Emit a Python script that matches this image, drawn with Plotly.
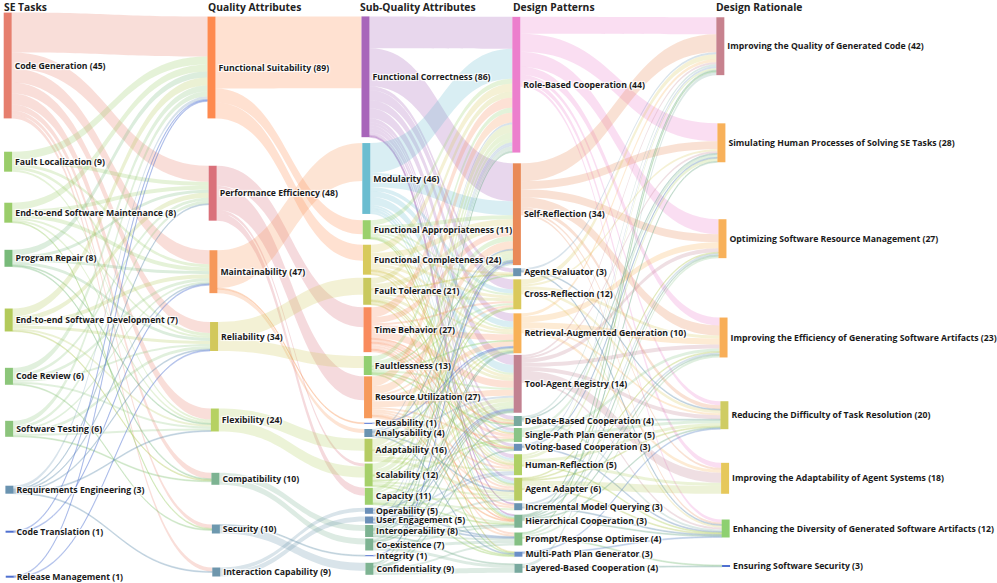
import plotly.graph_objects as go

# ---------------- data ----------------
se_tasks = ["Code Generation", "Fault Localization", "End-to-end Software Maintenance", "Program Repair",
            "End-to-end Software Development", "Code Review", "Software Testing",
            "Requirements Engineering", "Code Translation", "Release Management"]
se_counts = [45, 9, 8, 8, 7, 6, 6, 3, 1, 1]

quality_attrs = ["Functional Suitability", "Performance Efficiency", "Maintainability", "Reliability",
                 "Flexibility", "Compatibility", "Security", "Interaction Capability"]
qa_counts = [89, 48, 47, 34, 24, 10, 10, 9]

sub_quality = ["Functional Correctness", "Modularity", "Functional Appropriateness", "Functional Completeness",
               "Fault Tolerance", "Time Behavior", "Faultlessness", "Resource Utilization", "Reusability",
               "Analysability", "Adaptability", "Scalability", "Capacity", "Operability", "User Engagement",
               "Interoperability", "Co-existence", "Integrity", "Confidentiality"]
sq_counts = [86, 46, 11, 24, 21, 27, 13, 27, 1, 4, 16, 12, 11, 5, 5, 8, 7, 1, 9]

design_patterns = ["Role-Based Cooperation", "Self-Reflection", "Agent Evaluator", "Cross-Reflection",
                   "Retrieval-Augmented Generation", "Tool-Agent Registry", "Debate-Based Cooperation",
                   "Single-Path Plan Generator", "Voting-based Cooperation", "Human-Reflection", "Agent Adapter",
                   "Incremental Model Querying", "Hierarchical Cooperation", "Prompt/Response Optimiser",
                   "Multi-Path Plan Generator", "Layered-Based Cooperation"]
dp_counts = [44, 34, 3, 12, 10, 14, 4, 5, 3, 5, 6, 3, 3, 4, 3, 4]

design_rationale = ["Improving the Quality of Generated Code", "Simulating Human Processes of Solving SE Tasks",
                    "Optimizing Software Resource Management",
                    "Improving the Efficiency of Generating Software Artifacts",
                    "Reducing the Difficulty of Task Resolution", "Improving the Adaptability of Agent Systems",
                    "Enhancing the Diversity of Generated Software Artifacts", "Ensuring Software Security"]
dr_counts = [42, 28, 27, 23, 20, 18, 12, 3]

column_titles = ["SE Tasks", "Quality Attributes", "Sub-Quality Attributes", "Design Patterns", "Design Rationale"]

# flow weights (rows = source node, columns = target node), estimated from band widths
flow_se_qa = [
    [40, 16, 14, 11, 11, 6, 4, 4],
    [8, 4, 3, 3, 2, 0, 0, 0],
    [7, 4, 4, 2, 2, 0, 1, 0],
    [6, 3, 3, 3, 1, 1, 0, 0],
    [8, 5, 4, 3, 2, 1, 0, 0],
    [6, 3, 3, 2, 2, 0, 1, 0],
    [5, 3, 2, 3, 2, 1, 0, 0],
    [3, 1, 1, 1, 1, 0, 0, 1],
    [1, 0, 1, 0, 0, 0, 0, 0],
    [1, 0, 0, 1, 0, 0, 0, 0],
]
flow_qa_sq = [
    [72, 0, 14, 16, 0, 0, 0, 0, 0, 0, 0, 0, 0, 0, 0, 0, 0, 0, 0],
    [0, 0, 0, 0, 0, 20, 0, 24, 0, 0, 0, 3, 8, 0, 0, 0, 0, 0, 0],
    [0, 38, 0, 0, 0, 0, 0, 0, 1, 4, 0, 0, 0, 0, 0, 0, 0, 0, 0],
    [0, 0, 0, 0, 17, 0, 12, 0, 0, 0, 0, 0, 0, 0, 0, 0, 0, 0, 0],
    [0, 0, 0, 0, 0, 0, 0, 0, 0, 0, 12, 11, 0, 0, 0, 0, 0, 0, 0],
    [0, 0, 0, 0, 0, 0, 0, 0, 0, 0, 0, 0, 0, 0, 0, 6, 6, 0, 0],
    [0, 0, 0, 0, 0, 0, 0, 0, 0, 0, 0, 0, 0, 0, 0, 0, 0, 1, 8],
    [0, 0, 0, 0, 0, 0, 0, 0, 0, 0, 0, 0, 0, 4, 5, 0, 0, 0, 0],
]
flow_sq_dp = [
    [32, 38, 4, 10, 8, 10, 4, 3, 3, 4, 3, 1, 1, 0, 0, 0],
    [30, 14, 0, 4, 6, 8, 0, 2, 0, 2, 3, 0, 2, 0, 0, 0],
    [5, 4, 0, 2, 2, 2, 0, 0, 0, 2, 1, 0, 1, 0, 0, 0],
    [8, 6, 2, 3, 3, 3, 1, 1, 0, 2, 0, 0, 1, 0, 0, 0],
    [6, 5, 1, 3, 2, 3, 2, 0, 1, 1, 2, 0, 0, 0, 1, 0],
    [10, 6, 0, 2, 6, 7, 1, 3, 1, 2, 2, 2, 1, 2, 0, 0],
    [5, 5, 1, 2, 1, 2, 1, 0, 1, 0, 0, 0, 0, 0, 1, 0],
    [10, 8, 0, 2, 5, 6, 0, 2, 0, 2, 2, 2, 1, 2, 0, 0],
    [0, 0, 0, 0, 1, 0, 0, 0, 0, 0, 0, 0, 0, 0, 0, 0],
    [2, 1, 0, 0, 1, 2, 0, 0, 0, 0, 1, 0, 0, 0, 1, 0],
    [8, 3, 0, 1, 2, 4, 0, 0, 0, 2, 3, 0, 0, 0, 0, 0],
    [6, 5, 0, 1, 1, 4, 0, 1, 0, 0, 2, 0, 2, 0, 1, 0],
    [4, 2, 0, 0, 0, 3, 0, 2, 0, 0, 2, 2, 1, 0, 1, 0],
    [2, 0, 0, 0, 0, 1, 0, 0, 0, 2, 0, 0, 0, 1, 0, 0],
    [2, 1, 0, 0, 0, 1, 0, 0, 0, 2, 0, 0, 0, 1, 0, 0],
    [3, 1, 0, 0, 1, 1, 0, 0, 0, 0, 2, 0, 1, 2, 0, 1],
    [2, 0, 0, 0, 1, 1, 0, 0, 0, 0, 0, 0, 2, 3, 0, 3],
    [0, 1, 0, 0, 0, 0, 0, 0, 0, 0, 0, 0, 0, 0, 0, 0],
    [1, 2, 0, 0, 0, 0, 1, 0, 1, 0, 0, 0, 0, 2, 0, 5],
]
flow_dp_dr = [
    [17, 18, 15, 8, 4, 5, 3, 0],
    [18, 8, 8, 10, 4, 2, 2, 0],
    [2, 0, 0, 0, 1, 0, 1, 0],
    [5, 2, 0, 3, 3, 0, 2, 0],
    [3, 0, 6, 6, 2, 3, 0, 0],
    [2, 2, 4, 4, 4, 10, 2, 0],
    [2, 1, 0, 0, 1, 0, 2, 0],
    [0, 3, 0, 3, 3, 0, 0, 0],
    [2, 1, 0, 0, 0, 0, 1, 0],
    [2, 3, 0, 0, 3, 3, 1, 0],
    [0, 0, 1, 1, 1, 8, 1, 0],
    [0, 0, 2, 2, 0, 0, 1, 0],
    [1, 1, 1, 1, 1, 0, 1, 0],
    [1, 0, 2, 2, 0, 0, 0, 1],
    [0, 0, 0, 0, 1, 0, 1, 0],
    [3, 0, 0, 0, 0, 0, 0, 1],
]

# ---------------- styles ----------------
se_colors = ["#E67F6E", "#9ACD6A", "#9ACD6A", "#78BA7A", "#B3CA5A", "#8CC67A", "#8CC47C",
             "#6A93B0", "#4F70D0", "#4F70D0"]
qa_colors = ["#FE8A4F", "#DA707A", "#F6985A", "#D2C85B", "#B6D163", "#7DB392", "#6D98AE", "#6E96AC"]
sq_colors = ["#A865BA", "#6BBDD0", "#9BD06C", "#D8CA5C", "#C9C95E", "#F98B5D", "#92CF70", "#F69A5B",
             "#4F70D0", "#6A93B0", "#B5CC63", "#A6D06A", "#9ED06C", "#6A8FB8", "#6A8FB8", "#7DB392",
             "#7DB392", "#4F70D0", "#7DB392"]
dp_colors = ["#EC7FCD", "#E98A58", "#6A93B0", "#DAC95C", "#F8B157", "#C28291", "#78A99E", "#88C486",
             "#6A8FB8", "#B0D064", "#B8CC63", "#6A93B0", "#7DB392", "#84C084", "#6A8FC8", "#78A99E"]
dr_colors = ["#C7828E", "#F8B15A", "#F8B15A", "#F8AE58", "#CFCC63", "#E6C85B", "#8ED071", "#4F70D0"]

# layout positions (pixels in the 997x583 page)
FIG_W, FIG_H = 997, 583
M_T, M_B = 11, 5
PLOT_H = FIG_H - M_T - M_B
col_x_px = [7.5, 211, 365, 516, 720]
col_drift = [0.004, 0.0095, 0.008, 0.0045, 0.011]   # slight rightward drift of lower nodes
title_x_px = [3, 207, 359, 512, 715]
se_y_px = [65.5, 161.7, 212.7, 258.3, 320, 376.3, 428.8, 489.7, 531.7, 576.7]
qa_y_px = [67.5, 193.2, 271.7, 336.5, 420, 478.8, 529, 572]
sq_y_px = [76.8, 178.5, 229.7, 259.7, 291.3, 329.7, 365.5, 397.3, 423.3, 433, 450.2, 475, 496.3,
           510.8, 520, 531, 544.5, 555.7, 568.8]
dp_y_px = [84.7, 214.2, 272.2, 294.3, 333.3, 383.8, 421, 435, 447.3, 464.7, 489.2, 506.7, 521.2,
           539, 554.2, 568.3]
dr_y_px = [46.2, 142.8, 238.7, 337.5, 415.2, 478.3, 528.5, 566]

columns = [se_tasks, quality_attrs, sub_quality, design_patterns, design_rationale]
counts = [se_counts, qa_counts, sq_counts, dp_counts, dr_counts]
colors = [se_colors, qa_colors, sq_colors, dp_colors, dr_colors]
ypos = [se_y_px, qa_y_px, sq_y_px, dp_y_px, dr_y_px]
flows = [flow_se_qa, flow_qa_sq, flow_sq_dp, flow_dp_dr]


def rgba(hex_color, a):
    h = hex_color.lstrip("#")
    r, g, b = int(h[0:2], 16), int(h[2:4], 16), int(h[4:6], 16)
    return f"rgba({r},{g},{b},{a})"


labels, node_colors, node_x, node_y, offsets = [], [], [], [], []
off = 0
for c, names in enumerate(columns):
    offsets.append(off)
    for i, name in enumerate(names):
        labels.append(f"{name} ({counts[c][i]})")
        node_colors.append(colors[c][i])
        yp = ypos[c][i]
        node_x.append((col_x_px[c] + col_drift[c] * (yp - 16)) / FIG_W)
        node_y.append((yp - M_T) / PLOT_H)
    off += len(names)

src, tgt, val, link_colors = [], [], [], []
for s, mat in enumerate(flows):
    for i, row in enumerate(mat):
        for j, v in enumerate(row):
            if v > 0:
                src.append(offsets[s] + i)
                tgt.append(offsets[s + 1] + j)
                val.append(v)
                link_colors.append(rgba(colors[s][i], 0.26))

# invisible helper column on the far right, so the last real column keeps its labels on the right
helper = len(labels)
labels.append("")
node_colors.append("rgba(0,0,0,0)")
node_x.append(0.999)
node_y.append(0.5)
for j in range(len(design_rationale)):
    src.append(offsets[4] + j)
    tgt.append(helper)
    val.append(0.001)
    link_colors.append("rgba(0,0,0,0)")

fig = go.Figure(go.Sankey(
    arrangement="fixed",
    node=dict(
        label=labels,
        color=node_colors,
        x=node_x,
        y=node_y,
        pad=4,
        thickness=8,
        line=dict(width=0, color="white"),
    ),
    link=dict(source=src, target=tgt, value=val, color=link_colors),
    textfont=dict(family="Open Sans", size=8.7, color="#1a1a1a", weight="bold"),
))

for c, title in enumerate(column_titles):
    fig.add_annotation(
        text=title, xref="paper", yref="paper",
        x=(title_x_px[c] - 1) / FIG_W, y=1 + (M_T - 7) / PLOT_H,
        xanchor="left", yanchor="middle", showarrow=False,
        font=dict(family="Open Sans", size=10.3, color="#222222", weight="bold"),
    )

fig.update_layout(
    width=FIG_W, height=FIG_H,
    margin=dict(l=0, r=0, t=M_T, b=M_B),
    paper_bgcolor="white", plot_bgcolor="white",
)
fig.write_html("out.html", config={"displayModeBar": False},
               post_script="document.body.style.margin='0';")
